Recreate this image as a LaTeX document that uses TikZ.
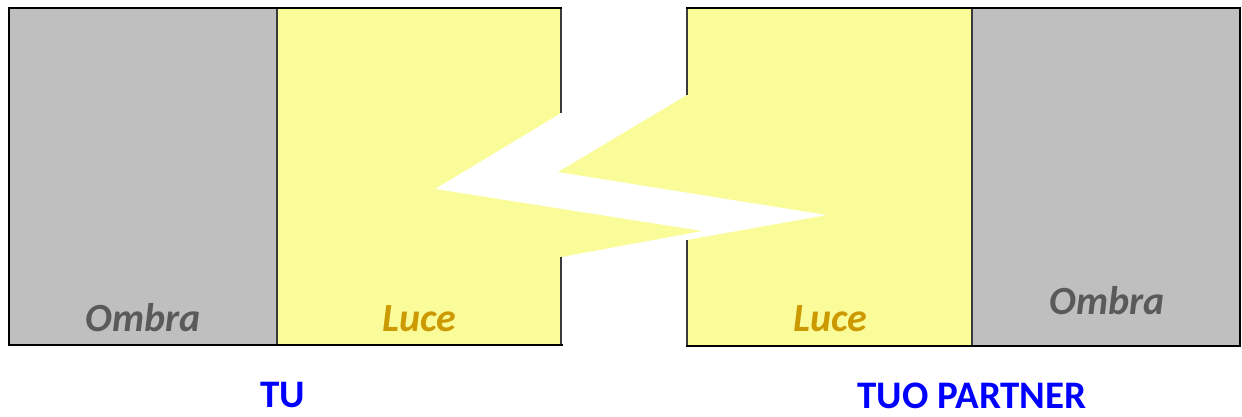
\documentclass[tikz,border=0pt]{standalone}
\usepackage{fontspec}
\setmainfont{Carlito}
\definecolor{shadegray}{HTML}{BFBFBF}
\definecolor{lightyellow}{HTML}{FAFC9A}
\definecolor{ombratext}{HTML}{5A5A5A}
\definecolor{lucetext}{HTML}{CC9A00}
\definecolor{thinline}{HTML}{3A3A3A}
\definecolor{nameblue}{HTML}{0000FF}
\tikzset{
  outline/.style={draw=black, line width=2.4pt, line cap=rect, line join=miter},
  divider/.style={draw=thinline, line width=1.1pt},
  partlabel/.style={font=\fontsize{40}{42}\selectfont\bfseries\itshape, inner sep=0pt, anchor=base},
  namelabel/.style={font=\fontsize{39}{42}\selectfont\bfseries, text=nameblue, inner sep=0pt, anchor=base},
}
\begin{document}
\begin{tikzpicture}[x=1pt,y=-1pt]
\useasboundingbox (0,0) rectangle (1242,416);
% fills
\fill[shadegray] (9,8) rectangle (277,345);
\fill[lightyellow] (277,8) -- (561,8) -- (561,113) -- (435,189) -- (702,231) -- (561,257) -- (561,345) -- (277,345) -- cycle;
\fill[lightyellow] (972,8) -- (687,8) -- (687,95) -- (558,172) -- (827,215) -- (687,240) -- (687,346) -- (972,346) -- cycle;
\fill[shadegray] (972,8) rectangle (1240,346);
% thin lines
\draw[divider] (277,8) -- (277,345);
\draw[divider] (561,8) -- (561,113);
\draw[divider] (561,257) -- (561,345);
\draw[divider] (972,8) -- (972,346);
\draw[divider] (687,8) -- (687,95);
\draw[divider] (687,240) -- (687,346);
% thick outlines
\draw[outline] (561,8) -- (9,8) -- (9,345) -- (562,345);
\draw[outline] (687,8) -- (1240,8) -- (1240,346) -- (687,346);
% labels
\node[partlabel, text=ombratext] (ombraL) at (143,331) {Ombra};
\node[partlabel, text=lucetext] (luceL) at (419,331) {Luce};
\node[partlabel, text=lucetext] (luceR) at (830,331) {Luce};
\node[partlabel, text=ombratext] (ombraR) at (1107,314) {Ombra};
\node[namelabel] (tu) at (283,407) {TU};
\node[namelabel] (partner) at (972,408) {TUO PARTNER};
\end{tikzpicture}
\end{document}
